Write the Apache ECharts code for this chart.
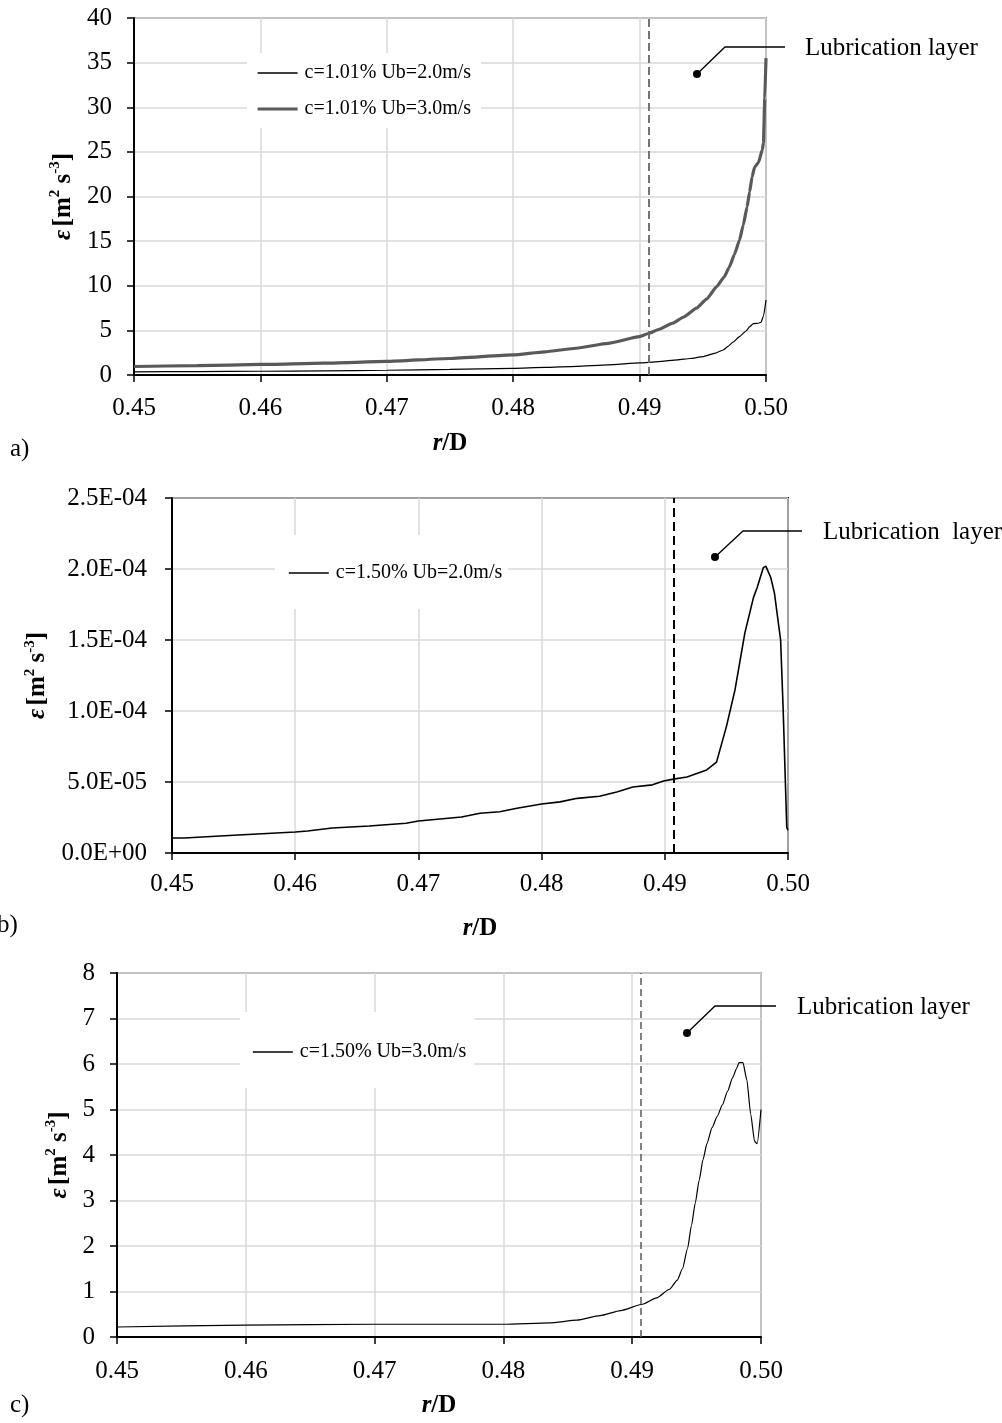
<!DOCTYPE html>
<html>
<head>
<meta charset="utf-8">
<script src="https://cdn.jsdelivr.net/npm/echarts@6/dist/echarts.min.js"></script>
<style>
  html, body { margin: 0; padding: 0; background: #fff; }
  #chart { width: 1002px; height: 1423px; }
</style>
</head>
<body>
<div id="chart"></div>
<script>
// Dissipation rate profiles near the pipe wall, r/D from 0.45 to 0.50.

// a) c = 1.01 %, Ub = 2.0 m/s
const R_A_UB2 = [0.45, 0.455, 0.46, 0.465, 0.47, 0.475, 0.48, 0.4825, 0.485, 0.4875, 0.49, 0.4915, 0.493, 0.494,
  0.495, 0.496, 0.4966, 0.497, 0.4974, 0.4979, 0.4984, 0.4987, 0.499, 0.4994, 0.4996, 0.4998, 0.5];
const EPS_A_UB2 = [0.35, 0.38, 0.42, 0.47, 0.53, 0.62, 0.75, 0.85, 0.97, 1.13, 1.35, 1.5, 1.7, 1.85,
  2.05, 2.45, 2.8, 3.2, 3.7, 4.3, 4.9, 5.4, 5.75, 5.8, 5.9, 6.6, 8.4];

// a) c = 1.01 %, Ub = 3.0 m/s
const R_A_UB3 = [0.45, 0.455, 0.46, 0.465, 0.47, 0.475, 0.48, 0.4825, 0.485, 0.4875, 0.49, 0.4907, 0.4915, 0.4926,
  0.4935, 0.4945, 0.4953, 0.4961, 0.4967, 0.4971, 0.4975, 0.4979, 0.4982, 0.4985, 0.4987, 0.4989, 0.4991, 0.4994,
  0.4997, 0.4998, 0.4999, 0.5];
const EPS_A_UB3 = [0.95, 1.05, 1.18, 1.33, 1.52, 1.85, 2.25, 2.6, 3.0, 3.55, 4.3, 4.65, 5.1, 5.8,
  6.5, 7.5, 8.5, 9.9, 11.0, 12.1, 13.5, 15.1, 16.8, 18.8, 20.5, 22.2, 23.3, 23.8,
  25.2, 26.0, 31.0, 35.5];

// b) c = 1.50 %, Ub = 2.0 m/s
const R_B = [0.45, 0.451, 0.455, 0.46, 0.461, 0.463, 0.466, 0.469, 0.47, 0.4735, 0.475, 0.4766, 0.478, 0.48,
  0.4815, 0.4829, 0.4847, 0.4861, 0.4874, 0.489, 0.4899, 0.4907, 0.4918, 0.4926, 0.4934, 0.4942, 0.495, 0.4957,
  0.4965, 0.4972, 0.4975, 0.498, 0.4982, 0.4986, 0.4989, 0.4994, 0.4996, 0.4999, 0.5];
const EPS_B = [1.06e-5, 1.06e-5, 1.25e-5, 1.48e-5, 1.55e-5, 1.76e-5, 1.9e-5, 2.1e-5, 2.25e-5, 2.54e-5, 2.8e-5,
  2.9e-5, 3.15e-5, 3.45e-5, 3.6e-5, 3.85e-5, 4.0e-5, 4.3e-5, 4.65e-5, 4.8e-5, 5.07e-5, 5.2e-5, 5.35e-5, 5.6e-5,
  5.85e-5, 6.4e-5, 8.9e-5, 1.15e-4, 1.55e-4, 1.8e-4, 1.87e-4, 2.01e-4, 2.02e-4, 1.94e-4, 1.83e-4, 1.5e-4,
  1.03e-4, 1.8e-5, 1.6e-5];

// c) c = 1.50 %, Ub = 3.0 m/s
const R_C = [0.45, 0.46, 0.47, 0.48, 0.4836, 0.4857, 0.4875, 0.4891, 0.4908, 0.4919, 0.4929, 0.4935, 0.4939,
  0.4943, 0.4946, 0.4949, 0.4952, 0.4955, 0.4958, 0.4962, 0.4966, 0.497, 0.4974, 0.4978, 0.4981, 0.4983, 0.4986,
  0.4989, 0.4992, 0.4995, 0.4997, 0.5];
const EPS_C = [0.22, 0.26, 0.28, 0.28, 0.31, 0.37, 0.47, 0.58, 0.72, 0.86, 1.05, 1.25, 1.5,
  1.95, 2.45, 2.95, 3.45, 3.9, 4.25, 4.6, 4.85, 5.1, 5.4, 5.7, 5.9, 6.03, 6.03,
  5.65, 4.9, 4.3, 4.25, 5.0];

// Edge of the lubrication layer (r/D)
const LAYER_EDGE = 0.4907;

// Axis ranges and tick steps
const X_RANGE = [0.45, 0.50, 0.01];
const Y_RANGE_A = [0, 40, 5];
const Y_RANGE_B = [0, 2.5e-4, 5e-5];
const Y_RANGE_C = [0, 8, 1];

const NAMES = ['c=1.01% Ub=2.0m/s', 'c=1.01% Ub=3.0m/s', 'c=1.50% Ub=2.0m/s', 'c=1.50% Ub=3.0m/s'];

const FONT = "'Liberation Serif', 'Times New Roman', serif";
const pairs = (xs, ys) => xs.map((x, i) => [x, ys[i]]);

const sciLabel = v => v.toExponential(1).toUpperCase().replace(/E([+-])(\d)$/, 'E$10$2');

// Line styles per series
const STYLE = {
  thin: { color: '#000', width: 1.2 },
  thick: { color: '#595959', width: 3.2 },
  mid: { color: '#000', width: 1.6 }
};

function xAxisFor(gridIndex, labelMargin, nameGap) {
  return {
    gridIndex, type: 'value', min: X_RANGE[0], max: X_RANGE[1], interval: X_RANGE[2],
    axisLine: { onZero: false, lineStyle: { color: '#000', width: 2 } },
    axisTick: { show: true, length: 7, lineStyle: { color: '#000', width: 1.5 } },
    axisLabel: { formatter: v => v.toFixed(2), fontSize: 25, fontFamily: FONT, color: '#000', margin: labelMargin },
    splitLine: { show: true, lineStyle: { color: '#d9d9d9', width: 1.5 } },
    name: '{i|r}{b|/D}', nameLocation: 'middle', nameGap,
    nameTextStyle: {
      rich: {
        i: { fontSize: 25, fontFamily: FONT, fontStyle: 'italic', fontWeight: 'bold', color: '#000' },
        b: { fontSize: 25, fontFamily: FONT, fontWeight: 'bold', color: '#000' }
      }
    }
  };
}

function yAxisFor(gridIndex, range, labelMargin, nameGap, formatter) {
  const t = { fontSize: 25, fontFamily: FONT, fontWeight: 'bold', color: '#000', lineHeight: 28, verticalAlign: 'bottom' };
  const s = { fontSize: 15, fontFamily: FONT, fontWeight: 'bold', color: '#000', lineHeight: 28, verticalAlign: 'top' };
  return {
    gridIndex, type: 'value', min: range[0], max: range[1], interval: range[2],
    axisLine: { show: true, onZero: false, lineStyle: { color: '#000', width: 2 } },
    axisTick: { show: true, length: 7, lineStyle: { color: '#000', width: 1.5 } },
    axisLabel: { formatter, fontSize: 25, fontFamily: FONT, color: '#000', margin: labelMargin },
    splitLine: { show: true, lineStyle: { color: '#d9d9d9', width: 1.5 } },
    name: '{e|ε} {t|[m}{s|2}{t| s}{s|-3}{t|]}', nameLocation: 'middle', nameRotate: 90, nameGap,
    nameTextStyle: {
      rich: {
        e: Object.assign({}, t, { fontStyle: 'italic' }),
        t, s
      }
    }
  };
}

function legendFor(items, left, top, padding) {
  return {
    data: items.map(([name, ls]) => ({ name, lineStyle: { color: ls.color, width: Math.max(ls.width, 1.6) } })),
    orient: 'vertical', left, top, padding,
    backgroundColor: '#fff', itemWidth: 40, itemHeight: 20, itemGap: 16,
    selectedMode: false,
    itemStyle: { opacity: 0 },
    textStyle: { fontSize: 20, fontFamily: FONT, color: '#000', padding: [0, 0, 0, 2] }
  };
}

function layerLine(color, width, dash) {
  return {
    silent: true, symbol: ['none', 'none'], label: { show: false }, precision: 6,
    lineStyle: { color, width, type: dash },
    data: [{ xAxis: LAYER_EDGE }]
  };
}

// Callout: dot, leader line and caption
function callout(dot, knee, endX, textX, text) {
  return [
    { type: 'polyline', shape: { points: [dot, knee, [endX, knee[1]]] }, style: { stroke: '#000', lineWidth: 1.3, fill: null }, z: 100 },
    { type: 'circle', shape: { cx: dot[0], cy: dot[1], r: 4 }, style: { fill: '#000' }, z: 100 },
    { type: 'text', x: textX, y: knee[1] + 1, style: { text, font: `25px ${FONT}`, fill: '#000', verticalAlign: 'middle' }, z: 100 }
  ];
}

function panelTag(x, y, text) {
  return { type: 'text', x, y, style: { text, font: `25px ${FONT}`, fill: '#000', verticalAlign: 'middle' }, z: 100 };
}

const chart = echarts.init(document.getElementById('chart'), null, { renderer: 'canvas' });

chart.setOption({
  backgroundColor: '#fff',
  animation: false,
  grid: [
    { left: 134, top: 18, width: 632, height: 357, show: true, borderColor: '#595959', borderWidth: 1.5 },
    { left: 172, top: 498, width: 616, height: 355, show: true, borderColor: '#000', borderWidth: 2 },
    { left: 117, top: 973, width: 644, height: 364, show: true, borderColor: '#595959', borderWidth: 1.5 }
  ],
  xAxis: [
    xAxisFor(0, 21, 56),
    xAxisFor(1, 19, 63),
    xAxisFor(2, 22, 56)
  ],
  yAxis: [
    yAxisFor(0, Y_RANGE_A, 22, 55, v => String(v)),
    yAxisFor(1, Y_RANGE_B, 25, 107, sciLabel),
    yAxisFor(2, Y_RANGE_C, 22, 39, v => String(v))
  ],
  legend: [
    legendFor([[NAMES[0], STYLE.thin], [NAMES[1], STYLE.thick]], 247, 53, [10, 10, 9, 9]),
    legendFor([[NAMES[2], STYLE.mid]], 275, 535, [28, 6, 26, 13]),
    legendFor([[NAMES[3], STYLE.thin]], 240, 1012, [30, 8, 26, 12])
  ],
  series: [
    {
      name: NAMES[0], type: 'line', xAxisIndex: 0, yAxisIndex: 0, data: pairs(R_A_UB2, EPS_A_UB2),
      symbol: 'none', smooth: 0.15, smoothMonotone: 'x', lineStyle: STYLE.thin, itemStyle: { color: STYLE.thin.color }, z: 3
    },
    {
      name: NAMES[1], type: 'line', xAxisIndex: 0, yAxisIndex: 0, data: pairs(R_A_UB3, EPS_A_UB3),
      symbol: 'none', smooth: 0.15, smoothMonotone: 'x', lineStyle: STYLE.thick, itemStyle: { color: STYLE.thick.color }, z: 4,
      markLine: layerLine('#666', 1.8, [8, 4])
    },
    {
      name: NAMES[2], type: 'line', xAxisIndex: 1, yAxisIndex: 1, data: pairs(R_B, EPS_B),
      symbol: 'none', lineStyle: STYLE.mid, itemStyle: { color: STYLE.mid.color },
      markLine: layerLine('#000', 2, [9, 5])
    },
    {
      name: NAMES[3], type: 'line', xAxisIndex: 2, yAxisIndex: 2, data: pairs(R_C, EPS_C),
      symbol: 'none', smooth: 0.2, smoothMonotone: 'x', lineStyle: STYLE.thin, itemStyle: { color: STYLE.thin.color },
      markLine: layerLine('#595959', 1.5, [7, 4])
    }
  ],
  graphic: [
    ...callout([697, 74], [725, 47], 785, 805, 'Lubrication layer'),
    ...callout([715, 557], [743, 531], 802, 823, 'Lubrication  layer'),
    ...callout([687, 1033], [715, 1006], 776, 797, 'Lubrication layer'),
    panelTag(10, 449, 'a)'),
    panelTag(-3, 925, 'b)'),
    panelTag(10, 1405, 'c)')
  ]
});
</script>
</body>
</html>
